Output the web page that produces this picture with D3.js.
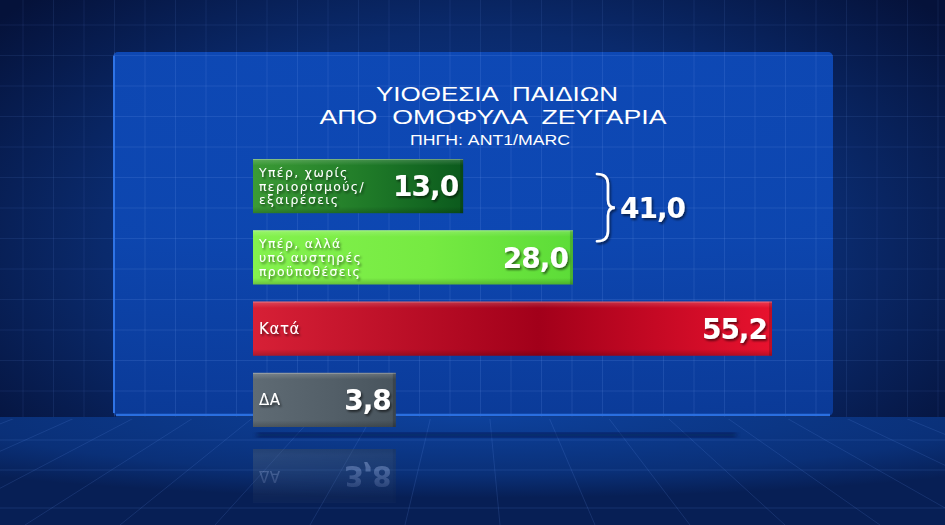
<!DOCTYPE html>
<html>
<head>
<meta charset="utf-8">
<script src="https://cdn.jsdelivr.net/npm/d3@7"></script>
<style>
  html, body { margin: 0; padding: 0; background: #071a48; }
  svg { display: block; }
  .title { font-family: "Liberation Sans", "DejaVu Sans", sans-serif; fill: #ffffff; }
  .label { font-family: "DejaVu Sans", sans-serif; fill: #ffffff; }
  .value { font-family: "DejaVu Sans", sans-serif; font-weight: bold; fill: #ffffff; }
</style>
</head>
<body>
<svg id="chart" width="945" height="525"></svg>
<script>
// chart values
let titleLines = ["ΥΙΟΘΕΣΙΑ  ΠΑΙΔΙΩΝ", "ΑΠΟ  ΟΜΟΦΥΛΑ  ΖΕΥΓΑΡΙΑ"];
let sourceText = "ΠΗΓΗ: ANT1/MARC";

let categories = ["pro_free", "pro_strict", "against", "dk"];
let labelLines = [
  ["Υπέρ, χωρίς", "περιορισμούς/", "εξαιρέσεις"],
  ["Υπέρ, αλλά", "υπό αυστηρές", "προϋποθέσεις"],
  ["Κατά"],
  ["ΔΑ"]
];
let values = [13.0, 28.0, 55.2, 3.8];
let groupedIdx = [0, 1];

let barColors = [
  ["#3b9b35", "#1f7a28", "#0b5a1d"],
  ["#84f24e", "#76ea42", "#5cdc38"],
  ["#d72036", "#a2001a", "#e8122e"],
  ["#5f6b74", "#535f68", "#48545d"]
];

const width = 945;
const height = 525;

let svg = d3.select("svg#chart");
let defs = svg.append("defs");

let fmt = function(v) { return d3.format(".1f")(v).replace(".", ","); };

/*
 * background
 */
let bg = defs.append("radialGradient").attr("id", "bg")
  .attr("cx", "50%").attr("cy", "45%").attr("r", "65%");
bg.append("stop").attr("offset", "0%").attr("stop-color", "#0f3f9c");
bg.append("stop").attr("offset", "60%").attr("stop-color", "#0a2a6c");
bg.append("stop").attr("offset", "100%").attr("stop-color", "#05123a");

svg.append("rect").attr("width", width).attr("height", height).attr("fill", "url(#bg)");

// floor
let floorY = 417;
let fl = defs.append("radialGradient").attr("id", "floor")
  .attr("cx", "50%").attr("cy", "0%").attr("r", "75%");
fl.append("stop").attr("offset", "0%").attr("stop-color", "#0d419c");
fl.append("stop").attr("offset", "70%").attr("stop-color", "#0a3078");
fl.append("stop").attr("offset", "100%").attr("stop-color", "#071f55");
svg.append("rect").attr("x", 0).attr("y", floorY).attr("width", width)
  .attr("height", height - floorY).attr("fill", "url(#floor)");

// background grid
let gridStep = 30.5;
let grid = svg.append("g").attr("stroke", "#6f9cf0").attr("stroke-width", 0.8);
d3.range(23 - gridStep, width, gridStep).forEach(function(x) {
  grid.append("line").attr("x1", x).attr("x2", x).attr("y1", 0).attr("y2", floorY)
    .attr("stroke-opacity", 0.14);
});
d3.range(25, floorY, gridStep).forEach(function(y) {
  grid.append("line").attr("x1", 0).attr("x2", width).attr("y1", y).attr("y2", y)
    .attr("stroke-opacity", 0.14);
});

// floor perspective lines
let vp = [473, 240];
let floorLines = svg.append("g").attr("stroke", "#6f9cf0").attr("stroke-width", 0.8)
  .attr("stroke-opacity", 0.2);
defs.append("clipPath").attr("id", "floorClip")
  .append("rect").attr("x", 0).attr("y", floorY + 2).attr("width", width).attr("height", height - floorY);
floorLines.attr("clip-path", "url(#floorClip)");
d3.range(-1400, 2400, 95).forEach(function(bx) {
  floorLines.append("line").attr("x1", vp[0]).attr("y1", vp[1]).attr("x2", bx).attr("y2", height);
});
[440, 470, 508].forEach(function(y) {
  floorLines.append("line").attr("x1", 0).attr("x2", width).attr("y1", y).attr("y2", y);
});

/*
 * panel
 */
let pg = defs.append("linearGradient").attr("id", "panel").attr("x1", 0).attr("y1", 0).attr("x2", 0).attr("y2", 1);
pg.append("stop").attr("offset", "0%").attr("stop-color", "#0e4bbb");
pg.append("stop").attr("offset", "50%").attr("stop-color", "#0d48b4");
pg.append("stop").attr("offset", "100%").attr("stop-color", "#0b3c9c");

let panel = {x: 113, y: 52, w: 720, h: 364};
svg.append("rect").attr("x", panel.x).attr("y", panel.y).attr("width", panel.w).attr("height", panel.h)
  .attr("rx", 5).attr("fill", "url(#panel)").attr("fill-opacity", 0.92);
// panel grid on top
let pgrid = svg.append("g").attr("stroke", "#7eaaf5").attr("stroke-width", 0.8).attr("stroke-opacity", 0.18);
d3.range(23, width, gridStep).filter(x => x > panel.x && x < panel.x + panel.w).forEach(function(x) {
  pgrid.append("line").attr("x1", x).attr("x2", x).attr("y1", panel.y).attr("y2", panel.y + panel.h);
});
d3.range(25, floorY, gridStep).filter(y => y > panel.y && y < panel.y + panel.h).forEach(function(y) {
  pgrid.append("line").attr("x1", panel.x).attr("x2", panel.x + panel.w).attr("y1", y).attr("y2", y);
});
// panel edges
svg.append("line").attr("x1", panel.x + 1).attr("x2", panel.x + 1).attr("y1", panel.y + 4).attr("y2", panel.y + panel.h - 3)
  .attr("stroke", "#2f74e6").attr("stroke-width", 2);
svg.append("line").attr("x1", panel.x + 3).attr("x2", panel.x + panel.w - 3)
  .attr("y1", panel.y + panel.h - 1).attr("y2", panel.y + panel.h - 1)
  .attr("stroke", "#2a6fe0").attr("stroke-width", 2.5);

/*
 * title
 */
svg.append("text").attr("class", "title").attr("x", 497).attr("y", 101)
  .attr("text-anchor", "middle").attr("font-size", 20)
  .attr("textLength", 242).attr("lengthAdjust", "spacingAndGlyphs")
  .style("white-space", "pre").text(titleLines[0]);
svg.append("text").attr("class", "title").attr("x", 493).attr("y", 124)
  .attr("text-anchor", "middle").attr("font-size", 20)
  .attr("textLength", 347).attr("lengthAdjust", "spacingAndGlyphs")
  .style("white-space", "pre").text(titleLines[1]);
svg.append("text").attr("class", "title").attr("x", 490).attr("y", 145)
  .attr("text-anchor", "middle").attr("font-size", 14.5)
  .attr("textLength", 160).attr("lengthAdjust", "spacingAndGlyphs")
  .text(sourceText);

/*
 * bars
 */
let barLeft = 253;
let xScale = d3.scaleLinear().domain([0, 55.2]).range([barLeft + 115, barLeft + 519]);
let yScale = d3.scaleBand().domain(categories).range([159, 427]).paddingInner(0.24).paddingOuter(0);

let shadow = defs.append("filter").attr("id", "txtShadow").attr("x", "-20%").attr("y", "-20%")
  .attr("width", "140%").attr("height", "140%");
shadow.append("feDropShadow").attr("dx", 1.5).attr("dy", 2).attr("stdDeviation", 1.2)
  .attr("flood-color", "#000").attr("flood-opacity", 0.55);

barColors.forEach(function(c, i) {
  let g = defs.append("linearGradient").attr("id", "bar" + i).attr("x1", 0).attr("x2", 1).attr("y1", 0).attr("y2", 0);
  g.append("stop").attr("offset", "0%").attr("stop-color", c[0]);
  g.append("stop").attr("offset", "55%").attr("stop-color", c[1]);
  g.append("stop").attr("offset", "100%").attr("stop-color", c[2]);
});
let shade = defs.append("linearGradient").attr("id", "shade").attr("x1", 0).attr("x2", 0).attr("y1", 0).attr("y2", 1);
shade.append("stop").attr("offset", "0%").attr("stop-color", "#fff").attr("stop-opacity", 0.18);
shade.append("stop").attr("offset", "12%").attr("stop-color", "#fff").attr("stop-opacity", 0);
shade.append("stop").attr("offset", "88%").attr("stop-color", "#000").attr("stop-opacity", 0);
shade.append("stop").attr("offset", "100%").attr("stop-color", "#000").attr("stop-opacity", 0.2);

// floor shadow under the last bars
defs.append("filter").attr("id", "blur").append("feGaussianBlur").attr("stdDeviation", 2.5);
svg.append("rect").attr("x", barLeft + 4).attr("y", 433)
  .attr("width", xScale(values[2]) - barLeft - 40).attr("height", 4)
  .attr("fill", "#031030").attr("opacity", 0.6).attr("filter", "url(#blur)");

function drawBar(sel, i, reflect) {
  let y0 = yScale(categories[i]);
  let bh = yScale.bandwidth();
  let x1 = xScale(values[i]);
  let g = sel.append("g");
  g.append("rect").attr("x", barLeft).attr("y", y0).attr("width", x1 - barLeft).attr("height", bh)
    .attr("fill", "url(#bar" + i + ")");
  g.append("rect").attr("x", barLeft).attr("y", y0).attr("width", x1 - barLeft).attr("height", bh)
    .attr("fill", "url(#shade)");
  // bevel on the right end
  g.append("rect").attr("x", x1 - 3).attr("y", y0).attr("width", 3).attr("height", bh)
    .attr("fill", "#000").attr("opacity", 0.18);
  g.append("line").attr("x1", barLeft).attr("x2", x1).attr("y1", y0 + 0.5).attr("y2", y0 + 0.5)
    .attr("stroke", "#fff").attr("stroke-opacity", 0.25);

  let lines = labelLines[i];
  let lh = 13.8;
  let mid = y0 + bh / 2;
  let first = mid - (lines.length - 1) * lh / 2;
  lines.forEach(function(t, k) {
    g.append("text").attr("class", "label").attr("x", barLeft + 6)
      .attr("y", first + k * lh).attr("dy", "0.36em")
      .attr("font-size", lines.length > 1 ? 12.4 : 15)
      .attr("letter-spacing", lines.length > 1 ? 1.4 : 0.6)
      .attr("filter", reflect ? null : "url(#txtShadow)")
      .text(t);
  });
  g.append("text").attr("class", "value").attr("x", x1 - 5).attr("y", mid).attr("dy", "0.37em")
    .attr("text-anchor", "end").attr("font-size", 28).attr("letter-spacing", -1)
    .attr("filter", reflect ? null : "url(#txtShadow)")
    .text(fmt(values[i]));
  return g;
}

// reflection of the bottom bar on the floor
let last = categories.length - 1;
let mirrorY = 438;
let rm = defs.append("linearGradient").attr("id", "reflFade")
  .attr("gradientUnits", "userSpaceOnUse").attr("x1", 0).attr("x2", 0).attr("y1", 440).attr("y2", 510);
rm.append("stop").attr("offset", "0%").attr("stop-color", "#fff").attr("stop-opacity", 0.45);
rm.append("stop").attr("offset", "100%").attr("stop-color", "#fff").attr("stop-opacity", 0.0);
defs.append("mask").attr("id", "reflMask").attr("maskUnits", "userSpaceOnUse")
  .attr("x", 0).attr("y", 0).attr("width", width).attr("height", height)
  .append("rect").attr("x", 0).attr("y", 440).attr("width", width).attr("height", 85)
  .attr("fill", "url(#reflFade)");
let refl = svg.append("g").attr("mask", "url(#reflMask)")
  .append("g").attr("transform", "translate(0," + (2 * mirrorY) + ") scale(1,-1)");
drawBar(refl, last, true);

let bars = svg.append("g").attr("id", "bars");
categories.forEach(function(c, i) { drawBar(bars, i, false); });

/*
 * bracket with the combined "for" total
 */
let bTop = yScale(categories[groupedIdx[0]]) + 15;
let bBot = yScale(categories[groupedIdx[1]]) + 11;
let bMid = (bTop + bBot) / 2;
let bx = xScale(values[groupedIdx[1]]) + 24;
let bracket = d3.path();
bracket.moveTo(bx, bTop);
bracket.quadraticCurveTo(bx + 11, bTop, bx + 11, bTop + 10);
bracket.lineTo(bx + 11, bMid - 8);
bracket.quadraticCurveTo(bx + 11, bMid, bx + 18, bMid);
bracket.quadraticCurveTo(bx + 11, bMid, bx + 11, bMid + 8);
bracket.lineTo(bx + 11, bBot - 10);
bracket.quadraticCurveTo(bx + 11, bBot, bx, bBot);
svg.append("path").attr("d", bracket.toString()).attr("fill", "none")
  .attr("stroke", "#fff").attr("stroke-width", 2.6).attr("stroke-linecap", "round")
  .attr("filter", "url(#txtShadow)");

let total = d3.sum(groupedIdx, i => values[i]);
svg.append("text").attr("class", "value").attr("x", bx + 23).attr("y", bMid).attr("dy", "0.37em")
  .attr("font-size", 28).attr("letter-spacing", -1).attr("filter", "url(#txtShadow)")
  .text(fmt(total));
</script>
</body>
</html>
